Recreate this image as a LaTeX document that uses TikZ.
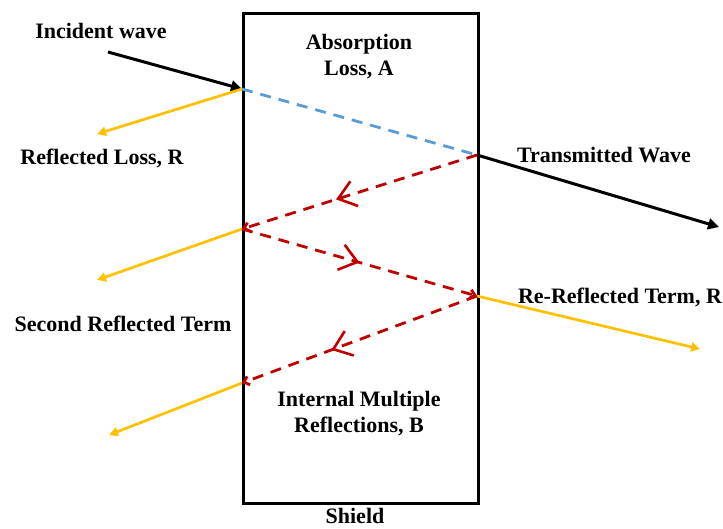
\documentclass[tikz,border=0pt]{standalone}
\usepackage{fontspec}
\setmainfont{Liberation Serif}
\usetikzlibrary{arrows.meta,decorations.markings}
\definecolor{ygold}{HTML}{FFC000}
\definecolor{lblue}{HTML}{5B9BD5}
\definecolor{dred}{HTML}{C00000}
\begin{document}
\begin{tikzpicture}[x=1pt,y=-1pt,
  lbl/.style={font=\fontsize{22}{26}\selectfont\bfseries, align=center, inner sep=0pt},
  blackray/.style={line width=3pt, draw=black, -{Triangle[length=11pt,width=11pt]}},
  yellowray/.style={line width=2.7pt, draw=ygold, -{Triangle[length=9pt,width=9pt]}},
  blueray/.style={line width=2.8pt, draw=lblue, dash pattern=on 11pt off 8pt},
  redray/.style={line width=2.8pt, draw=dred, dash pattern=on 11pt off 8pt,
     -{Straight Barb[length=5pt,width=9pt]}},
  midbarb/.style={postaction={decorate}, decoration={markings,
     mark=at position #1 with {\arrow[dred, line width=2.6pt, solid]{Straight Barb[length=17pt,width=26pt]}}}}
]
\useasboundingbox (0,0) rectangle (723,528);
% shield
\node[draw, line width=2.8pt, minimum width=235pt, minimum height=490pt, inner sep=0pt, anchor=north west] (shield) at (242,12) {};
% interface points
\coordinate (p1) at (242,89);
\coordinate (p2) at (477,155);
\coordinate (p3) at (242,229);
\coordinate (p4) at (477,296);
\coordinate (p5) at (242,383);
\coordinate (inc) at (108,52);
\coordinate (r1) at (97,134);
\coordinate (tr) at (719,227);
\coordinate (r2) at (97,280);
\coordinate (rr) at (700,349);
\coordinate (r3) at (109,435);
% rays
\draw[blackray] (inc) -- (p1);
\draw[blueray] (p1) -- (p2);
\draw[yellowray] (p1) -- (r1);
\draw[blackray] (p2) -- (tr);
\draw[redray, midbarb=0.6] (p2) -- (p3);
\draw[yellowray] (p3) -- (r2);
\draw[redray, midbarb=0.5] (p3) -- (p4);
\draw[yellowray] (p4) -- (rr);
\draw[redray, midbarb=0.62] (p4) -- (p5);
\draw[yellowray] (p5) -- (r3);
% labels
\node[lbl] (tinc) at (101,31) {Incident wave};
\node[lbl] (tabs) at (359,57) {Absorption\\Loss, A};
\node[lbl] (tref) at (102,158) {Reflected Loss, R};
\node[lbl] (ttr) at (604,155) {Transmitted Wave};
\node[lbl] (tsec) at (123,324) {Second Reflected Term};
\node[lbl] (trr) at (620,297) {Re-Reflected Term, R};
\node[lbl] (tint) at (359,414) {Internal Multiple\\Reflections, B};
\node[lbl] (tsh) at (355,516) {Shield};
\end{tikzpicture}
\end{document}
